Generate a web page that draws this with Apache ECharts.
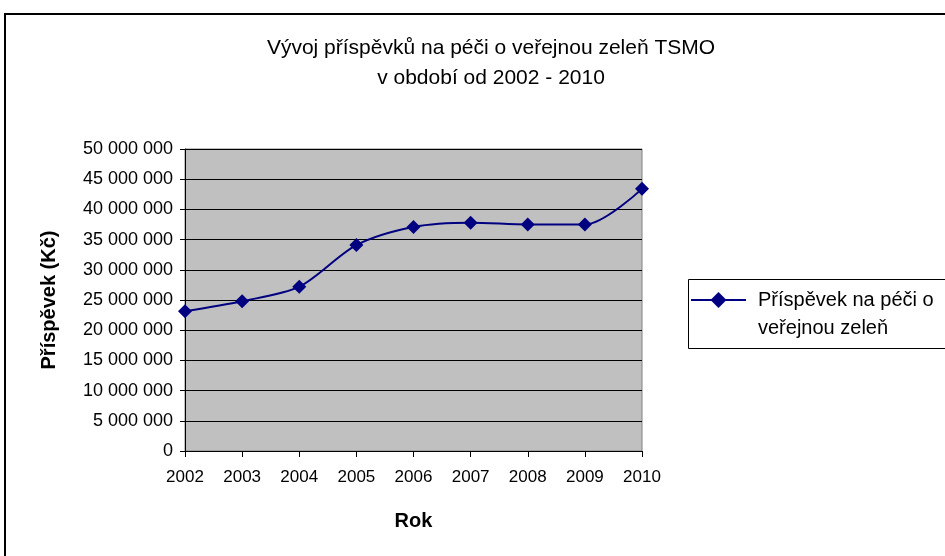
<!DOCTYPE html>
<html>
<head>
<meta charset="utf-8">
<script src="https://cdn.jsdelivr.net/npm/echarts@6/dist/echarts.min.js"></script>
<style>
  html, body { margin: 0; padding: 0; background: #fff; }
  #chart { width: 945px; height: 556px; }
</style>
</head>
<body>
<div id="chart"></div>
<script>
// data
const years = ['2002', '2003', '2004', '2005', '2006', '2007', '2008', '2009', '2010'];
const prispevek = [23150000, 24800000, 27200000, 34100000, 37100000, 37800000, 37500000, 37500000, 43400000];
const seriesName = 'Příspěvek na péči o veřejnou zeleň';

const font = 'Liberation Sans, Arial, sans-serif';

function spaced(v) {
  return String(v).replace(/\B(?=(\d{3})+(?!\d))/g, ' ');
}

let chart = echarts.init(document.getElementById('chart'));

let option = {
  animation: false,
  backgroundColor: '#fff',
  textStyle: { fontFamily: font },
  title: {
    text: 'Vývoj příspěvků na péči o veřejnou zeleň TSMO\nv období od 2002 - 2010',
    left: 486,
    textAlign: 'center',
    top: 28,
    textStyle: { fontFamily: font, fontSize: 21, fontWeight: 'normal', color: '#000', lineHeight: 30 }
  },
  legend: {
    left: 690,
    top: 258,
    padding: 0,
    itemWidth: 55,
    itemHeight: 20,
    itemGap: 0,
    // empty first line keeps the icon level with the first text line
    formatter: () => '\nPříspěvek na péči o\nveřejnou zeleň',
    textStyle: { fontFamily: font, fontSize: 20, color: '#000', lineHeight: 28, padding: [0, 0, 0, 7] }
  },
  grid: { left: 185, right: 303, top: 149, bottom: 105 },
  xAxis: {
    type: 'category',
    data: years,
    boundaryGap: false,
    name: 'Rok',
    nameLocation: 'middle',
    nameGap: 60,
    nameTextStyle: { fontFamily: font, fontSize: 20, fontWeight: 'bold', color: '#000' },
    axisLine: { lineStyle: { color: '#000', width: 1 } },
    axisTick: { alignWithLabel: true, length: 6, lineStyle: { color: '#000' } },
    axisLabel: { margin: 18, fontSize: 17, color: '#000', fontFamily: font },
    splitLine: { show: false }
  },
  yAxis: {
    type: 'value',
    min: 0,
    max: 50000000,
    interval: 5000000,
    name: 'Příspěvek (Kč)',
    nameLocation: 'middle',
    nameGap: 126,
    nameRotate: 90,
    nameTextStyle: { fontFamily: font, fontSize: 20, fontWeight: 'bold', color: '#000' },
    axisLine: { show: true, lineStyle: { color: '#000', width: 1 } },
    axisTick: { show: true, length: 5, lineStyle: { color: '#000' } },
    axisLabel: { margin: 12, fontSize: 18, color: '#000', fontFamily: font, formatter: spaced },
    splitLine: { lineStyle: { color: '#000', width: 1 } }
  },
  series: [
    {
      name: seriesName,
      type: 'line',
      data: prispevek,
      smooth: 0.3,
      symbol: 'diamond',
      symbolSize: 14,
      color: '#000080',
      lineStyle: { color: '#000080', width: 2 },
      itemStyle: { color: '#000080' }
    }
  ],
  graphic: [
    {
      type: 'rect',
      z: -10,
      shape: { x: 185, y: 149, width: 457, height: 302 },
      style: { fill: '#c0c0c0', stroke: '#808080', lineWidth: 1 }
    },
    {
      type: 'rect',
      z: -20,
      shape: { x: 5, y: 14, width: 960, height: 560 },
      style: { fill: 'none', stroke: '#000', lineWidth: 2 }
    },
    {
      type: 'rect',
      z: -10,
      shape: { x: 688.5, y: 279.5, width: 300, height: 69 },
      style: { fill: '#fff', stroke: '#000', lineWidth: 1 }
    }
  ]
};

chart.setOption(option);
</script>
</body>
</html>
